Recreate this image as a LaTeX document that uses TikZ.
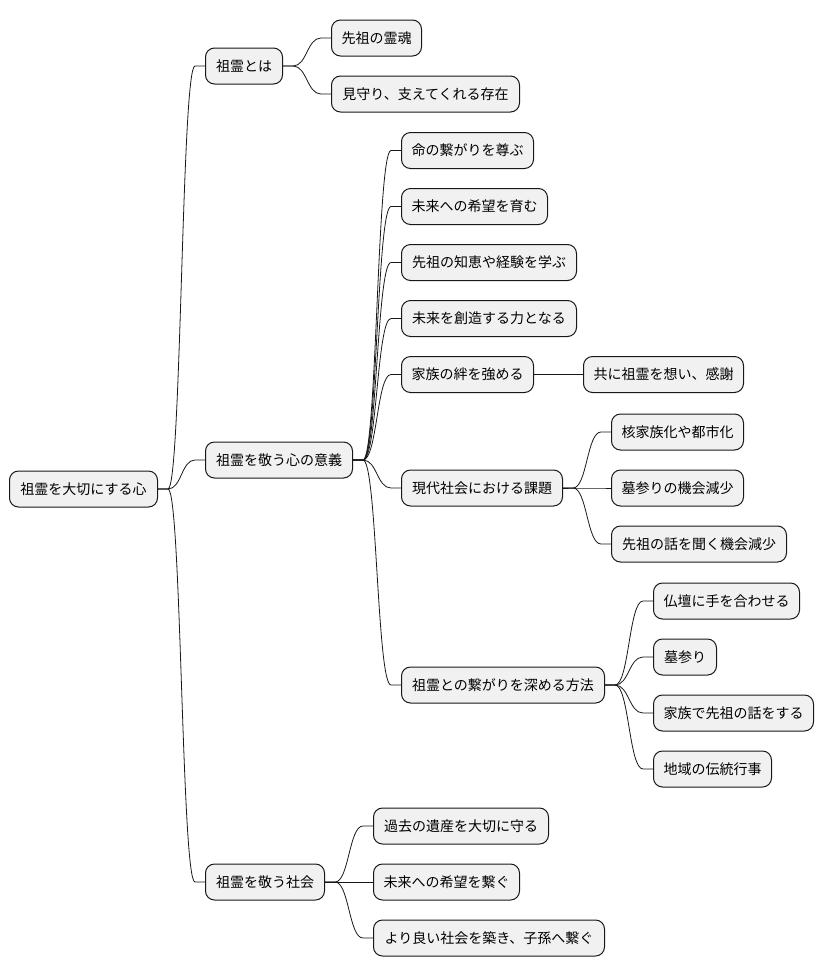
\documentclass[tikz,border=0pt]{standalone}
\usepackage{fontspec}
\setmainfont{Noto Sans CJK JP}
\usetikzlibrary{calc}
\definecolor{boxfill}{HTML}{F1F1F1}
\definecolor{boxline}{HTML}{181818}
\tikzset{
  mmbox/.style={draw=boxline, line width=1pt, fill=boxfill, rounded corners=9pt,
    minimum height=36pt, inner sep=0pt, anchor=west, align=center,
    font=\fontsize{14}{16}\selectfont},
  conn/.style={draw=boxline, line width=0.8pt}
}
\newcommand\mmlink[2]{\draw[conn] let \p1=(#1.east), \p2=(#2.west) in
  (\p1) -- (\x1+10pt,\y1) .. controls ({0.5*\x1+0.5*\x2},\y1) and ({0.5*\x1+0.5*\x2},\y2) .. (\x2-10pt,\y2) -- (\p2);}
\begin{document}
\begin{tikzpicture}[x=1pt,y=-1pt]
\useasboundingbox (0,0) rectangle (824,978);
% root
\node[mmbox, minimum width=148pt] (root) at (9,489) {祖霊を大切にする心};
% level 1
\node[mmbox, minimum width=77pt] (a) at (205,66) {祖霊とは};
\node[mmbox, minimum width=147pt] (b) at (205,460) {祖霊を敬う心の意義};
\node[mmbox, minimum width=119pt] (c) at (205,882) {祖霊を敬う社会};
% children of a
\node[mmbox, minimum width=90pt] (a1) at (331,38) {先祖の霊魂};
\node[mmbox, minimum width=188pt] (a2) at (331,94) {見守り、支えてくれる存在};
% children of b
\node[mmbox, minimum width=132pt] (b1) at (401,150.5) {命の繋がりを尊ぶ};
\node[mmbox, minimum width=146pt] (b2) at (401,206.5) {未来への希望を育む};
\node[mmbox, minimum width=175pt] (b3) at (401,262.5) {先祖の知恵や経験を学ぶ};
\node[mmbox, minimum width=175pt] (b4) at (401,318.5) {未来を創造する力となる};
\node[mmbox, minimum width=132pt] (b5) at (401,374.5) {家族の絆を強める};
\node[mmbox, minimum width=161pt] (b6) at (401,488) {現代社会における課題};
\node[mmbox, minimum width=203pt] (b7) at (401,685) {祖霊との繋がりを深める方法};
% grandchildren
\node[mmbox, minimum width=160pt] (b51) at (583,374.5) {共に祖霊を想い、感謝};
\node[mmbox, minimum width=132pt] (b61) at (611,432) {核家族化や都市化};
\node[mmbox, minimum width=132pt] (b62) at (611,488) {墓参りの機会減少};
\node[mmbox, minimum width=175pt] (b63) at (611,544) {先祖の話を聞く機会減少};
\node[mmbox, minimum width=146pt] (b71) at (653,601) {仏壇に手を合わせる};
\node[mmbox, minimum width=63pt] (b72) at (653,657) {墓参り};
\node[mmbox, minimum width=160pt] (b73) at (653,713) {家族で先祖の話をする};
\node[mmbox, minimum width=118pt] (b74) at (653,769) {地域の伝統行事};
% children of c
\node[mmbox, minimum width=175pt] (c1) at (373,826) {過去の遺産を大切に守る};
\node[mmbox, minimum width=146pt] (c2) at (373,882) {未来への希望を繋ぐ};
\node[mmbox, minimum width=231pt] (c3) at (373,938) {より良い社会を築き、子孫へ繋ぐ};
% connectors
\mmlink{root}{a}\mmlink{root}{b}\mmlink{root}{c}
\mmlink{a}{a1}\mmlink{a}{a2}
\mmlink{b}{b1}\mmlink{b}{b2}\mmlink{b}{b3}\mmlink{b}{b4}\mmlink{b}{b5}\mmlink{b}{b6}\mmlink{b}{b7}
\mmlink{b5}{b51}
\mmlink{b6}{b61}\mmlink{b6}{b62}\mmlink{b6}{b63}
\mmlink{b7}{b71}\mmlink{b7}{b72}\mmlink{b7}{b73}\mmlink{b7}{b74}
\mmlink{c}{c1}\mmlink{c}{c2}\mmlink{c}{c3}
\end{tikzpicture}
\end{document}
